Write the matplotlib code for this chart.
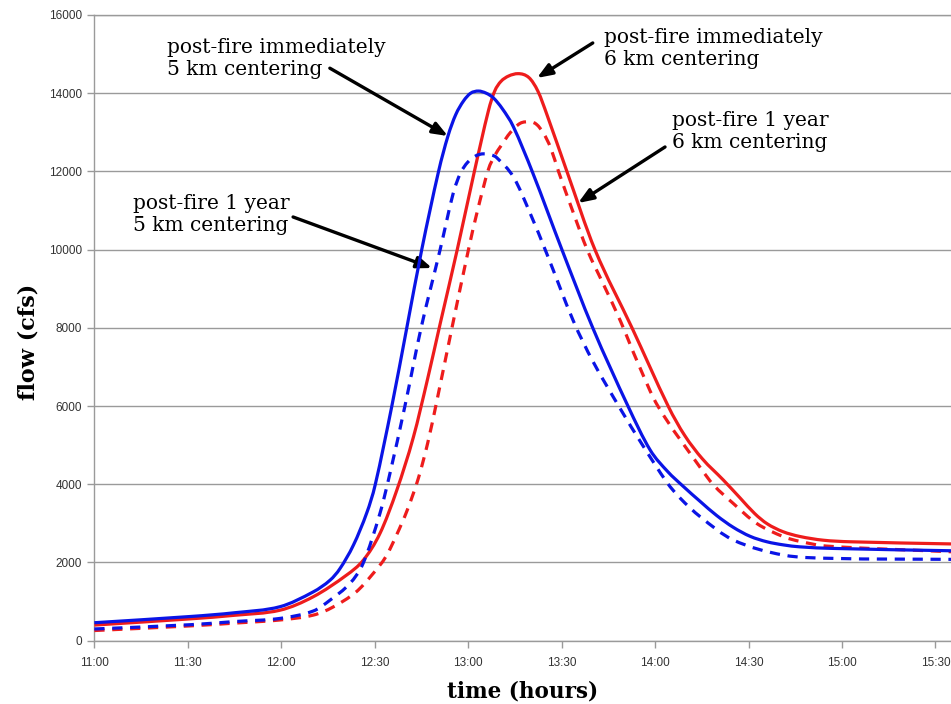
import numpy as np
import matplotlib
matplotlib.use("Agg")
import matplotlib.pyplot as plt
from matplotlib.path import Path
from matplotlib.patches import PathPatch

# time in minutes after 11:00, flow in cfs
t_imm_5km = [0, 31, 45, 59.6, 70.3, 75.7, 78.9, 83.2, 87.5, 90.2, 95.5, 100.3, 105.1, 110.5, 113.5, 116,
             118.5, 120.8, 123.3, 125.8, 128.1, 131, 134.5, 140.8, 150.1, 160, 171.3, 178.4, 184,
             189, 194.5, 199.8, 205.1, 210.5, 215.9, 221.2, 226.5, 237.1, 275]
q_imm_5km = [460, 620, 715, 870, 1250, 1550, 1850, 2450, 3280, 4000, 6000, 8000, 10000, 12000, 12900, 13450,
             13800, 14000, 14055, 14000, 13880, 13600, 13145, 11950, 10000, 8000, 6000, 4880, 4330,
             3950, 3560, 3200, 2900, 2670, 2530, 2450, 2400, 2360, 2300]

t_1yr_5km = [0, 31, 45, 59.6, 70.3, 75.7, 82.1, 86.4, 91.7, 94.9, 99.7, 104.9, 111, 115.2, 117.5, 119.8,
             122.5, 125, 127.5, 129.2, 134.6, 139.9, 145.2, 153.7, 160, 168.7, 176, 183.8, 188, 194.5,
             205.1, 221.2, 237.2, 275]
q_1yr_5km = [300, 410, 490, 570, 760, 1040, 1470, 2000, 3260, 4280, 6000, 8000, 10000, 11440, 11950, 12230,
             12400, 12450, 12420, 12350, 11850, 10930, 9905, 8190, 7150, 5950, 5000, 4050, 3650, 3170,
             2575, 2190, 2105, 2080]

t_imm_6km = [0, 31, 45, 59.6, 70.3, 81, 86.4, 91.7, 97.1, 102.4, 107, 111, 116.5, 122, 126.5, 128.5,
             130.5, 133, 136, 139.5, 142.4, 145.3, 151.7, 160.7, 172.6, 184.2, 189.5, 195.2, 201.9, 207.3,
             212, 216, 221, 226.5, 234, 242.6, 275]
q_imm_6km = [400, 560, 650, 780, 1125, 1680, 2065, 2745, 3850, 5200, 6700, 8100, 10000, 12000, 13550, 14050,
             14300, 14440, 14500, 14400, 14050, 13450, 12000, 10000, 8000, 6000, 5250, 4650, 4110, 3650,
             3250, 2990, 2790, 2665, 2570, 2530, 2475]

t_1yr_6km = [0, 31, 45, 59.6, 70.3, 76.6, 84, 89.3, 93.6, 97, 100.5, 104, 107, 110, 114.8, 120.1, 123,
             126.5, 128.5, 130.5, 133.5, 136.7, 139.9, 142, 144.2, 146.5, 149, 153.5, 158.2, 163.5, 168.8,
             174.5, 180.9, 194.4, 198.8, 205.1, 212.6, 221.2, 226.5, 235, 275]
q_1yr_6km = [260, 380, 450, 530, 655, 860, 1245, 1700, 2150, 2700, 3350, 4150, 5050, 6150, 8000, 10000, 11000,
             12050, 12400, 12650, 12990, 13230, 13270, 13200, 12975, 12600, 12000, 11000, 10000, 9100, 8190,
             7100, 6000, 4440, 3980, 3510, 3000, 2660, 2540, 2420, 2275]

tick_minutes = [0, 30, 60, 90, 120, 150, 180, 210, 240, 270]
tick_labels = ["11:00", "11:30", "12:00", "12:30", "13:00", "13:30", "14:00", "14:30", "15:00", "15:30"]
y_ticks = list(range(0, 16001, 2000))

blue = "#0a14e6"
red = "#ee1c1c"
grey = "#9a9a9a"
serif = ["DejaVu Serif"]


def smooth_path(x, y):
    # cubic hermite through the read points, drawn as bezier segments
    x = np.asarray(x, float)
    y = np.asarray(y, float)
    d = np.diff(y) / np.diff(x)
    m = np.empty_like(y)
    m[0], m[-1] = d[0], d[-1]
    m[1:-1] = (y[2:] - y[:-2]) / (x[2:] - x[:-2])
    for i in range(1, len(x) - 1):
        if d[i - 1] * d[i] <= 0:
            m[i] = 0.0
    verts = [(x[0], y[0])]
    codes = [Path.MOVETO]
    for i in range(len(x) - 1):
        h = x[i + 1] - x[i]
        verts += [(x[i] + h / 3, y[i] + m[i] * h / 3),
                  (x[i + 1] - h / 3, y[i + 1] - m[i + 1] * h / 3),
                  (x[i + 1], y[i + 1])]
        codes += [Path.CURVE4] * 3
    return Path(verts, codes)


fig = plt.figure(figsize=(9.51, 7.04), dpi=100)
ax = fig.add_axes([0.0992, 0.0899, 0.9008, 0.8888])

lw = 2.3
dash = (0, (3.2, 2.4))
series = [
    (t_imm_6km, q_imm_6km, red, "-", 3),
    (t_1yr_6km, q_1yr_6km, red, dash, 3),
    (t_imm_5km, q_imm_5km, blue, "-", 4),
    (t_1yr_5km, q_1yr_5km, blue, dash, 4),
]
for t, q, c, ls, z in series:
    ax.add_patch(PathPatch(smooth_path(t, q), fill=False, edgecolor=c, lw=lw,
                           linestyle=ls, capstyle="butt", zorder=z))

ax.set_xlim(0, 275)
ax.set_ylim(0, 16000)
ax.set_xticks(tick_minutes)
ax.set_xticklabels(tick_labels)
ax.set_yticks(y_ticks)
ax.yaxis.grid(True, color=grey, lw=1.0)
ax.set_axisbelow(True)
ax.spines["right"].set_visible(False)
for s in ["left", "bottom", "top"]:
    ax.spines[s].set_color(grey)
    ax.spines[s].set_linewidth(1.0)
ax.tick_params(axis="both", direction="out", length=5, width=1, color=grey,
               labelsize=8.5, labelcolor="#333333", pad=4)
ax.tick_params(axis="x", pad=7)
for lab in ax.get_xticklabels() + ax.get_yticklabels():
    lab.set_family("Liberation Sans")

ax.set_xlabel("time (hours)", family=serif, fontsize=15.5, fontweight="bold", labelpad=8)
ax.set_ylabel("flow (cfs)", family=serif, fontsize=16, fontweight="bold")
ax.yaxis.set_label_coords(-0.064, 0.478)

arrow = dict(arrowstyle="-|>,head_length=0.9,head_width=0.35", color="black", lw=2.4,
             shrinkA=0, shrinkB=0)
fs = 14.5
txt = dict(family=serif, fontsize=fs, ha="left", va="center", linespacing=1.2)

ax.text(23.3, 14875, "post-fire immediately\n5 km centering", **txt)
ax.annotate("", xy=(113.5, 12905), xytext=(75.6, 14640), arrowprops=arrow)

ax.text(163.6, 15143, "post-fire immediately\n6 km centering", **txt)
ax.annotate("", xy=(142.1, 14390), xytext=(160, 15285), arrowprops=arrow)

ax.text(185.5, 13021, "post-fire 1 year\n6 km centering", **txt)
ax.annotate("", xy=(155.3, 11192), xytext=(183.2, 12625), arrowprops=arrow)

ax.text(12.5, 10899, "post-fire 1 year\n5 km centering", **txt)
ax.annotate("", xy=(108.4, 9530), xytext=(63.8, 10835), arrowprops=arrow)

fig.savefig("out.png", dpi=100)
